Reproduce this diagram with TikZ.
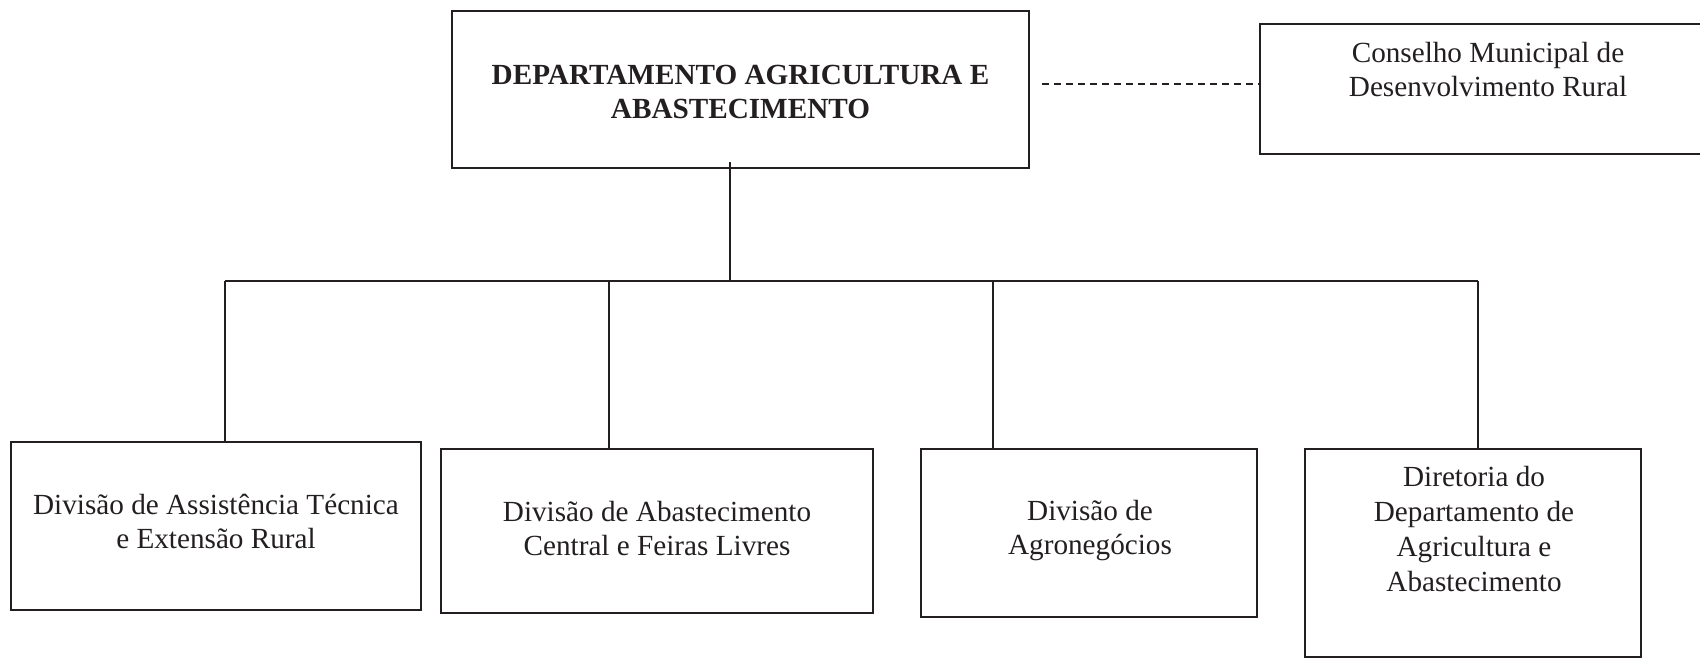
\documentclass[tikz,border=0pt]{standalone}
\usepackage{fontspec}
\setmainfont{Liberation Serif}
\usetikzlibrary{calc}
\definecolor{ink}{HTML}{231F20}
\begin{document}
\begin{tikzpicture}[x=0.5pt,y=-0.5pt,
  boxnode/.style={draw=ink, line width=1pt, rectangle, inner sep=0pt},
  txt/.style={text=ink, align=center, font=\fontsize{14.6}{17}\selectfont, inner sep=0pt},
  conn/.style={draw=ink, line width=0.8pt},
  dashconn/.style={conn, dash pattern=on 3.5pt off 2.5pt}]
\useasboundingbox (0,0) rectangle (1700,659);
\fill[white] (0,0) rectangle (1700,659);

% boxes
\node[boxnode, minimum width=288.5pt, minimum height=78.5pt] (top) at (740.5,89.5) {};
\node[boxnode, minimum width=228pt, minimum height=65pt] (right) at (1488,89) {};
\node[boxnode, minimum width=205pt, minimum height=84pt] (b1) at (216,526) {};
\node[boxnode, minimum width=216pt, minimum height=82pt] (b2) at (657,531) {};
\node[boxnode, minimum width=168pt, minimum height=84pt] (b3) at (1089,533) {};
\node[boxnode, minimum width=168pt, minimum height=104pt] (b4) at (1473,553) {};

% texts
\node[txt, font=\fontsize{14.6}{17}\selectfont\bfseries] (t0) at (740.5,92) {DEPARTAMENTO AGRICULTURA E\\ABASTECIMENTO};
\node[txt] (tr) at (1488,70) {Conselho Municipal de\\Desenvolvimento Rural};
\node[txt] (t1) at (216,521.5) {Divisão de Assistência Técnica\\e Extensão Rural};
\node[txt] (t2) at (657,528) {Divisão de Abastecimento\\Central e Feiras Livres};
\node[txt] (t3) at (1090,531) {Divisão de\\Agronegócios};
\node[txt, font=\fontsize{14.6}{17.4}\selectfont] (t4) at (1474,529) {Diretoria do\\Departamento de\\Agricultura e\\Abastecimento};

% connectors
\coordinate (hub) at (730,281);
\coordinate (j1) at (225,281);
\coordinate (j2) at (609,281);
\coordinate (j3) at (993,281);
\coordinate (j4) at (1478,281);
\coordinate (dashy) at (0,84);
\draw[conn] ($(top.south -| hub)+(0,-7)$) -- (hub);
\draw[conn] (j1) -- (j4);
\draw[conn] (j1) -- (j1 |- b1.north);
\draw[conn] (j2) -- (j2 |- b2.north);
\draw[conn] (j3) -- (j3 |- b3.north);
\draw[conn] (j4) -- (j4 |- b4.north);
\draw[dashconn] ($(top.east |- dashy)+(12,0)$) -- (right.west |- dashy);
\end{tikzpicture}
\end{document}
